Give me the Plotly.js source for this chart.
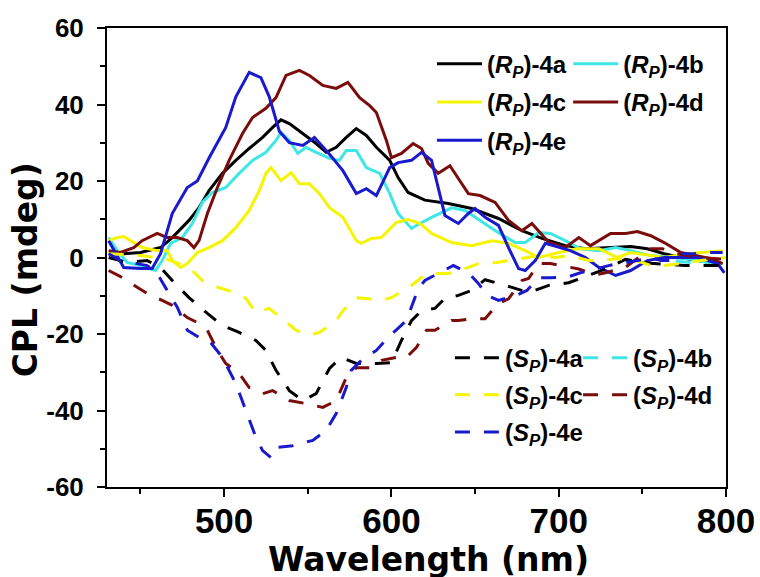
<!DOCTYPE html>
<html>
<head>
<meta charset="utf-8">
<script src="https://cdn.plot.ly/plotly-3.0.1.min.js"></script>
<style>html,body{margin:0;padding:0;background:#fff;}#chart{width:760px;height:577px;}</style>
</head>
<body>
<div id="chart"></div>
<script>
// ---- Data (wavelength nm, CPL mdeg) ----
var rp4a_x = [431,440,450,462,469,479,485,491,499,507,515,523,529,534,539,547,555,561,567,573,579,585,591,599,604,610,620,634,648,664,678,690,704,716,731,743,753,763,773,783,797];
var rp4a_y = [1,1,1.3,2.6,5.2,9.7,13,17.5,22,25.4,28.5,31.4,34,36,35,32.4,29.8,27.5,28.8,31.4,33.7,31.9,28.8,25.4,20.9,17,15,14.1,12.8,10.2,7,5,3.1,2.3,2.6,2.9,2.3,1,0,-0.8,-1.6];

var rp4b_x = [431,436,442,450,459,463,468,475,481,487,493,501,509,517,525,531,534,539,544,549,555,563,569,573,579,585,593,599,604,612,617,624,636,644,653,664,674,680,688,695,704,713,724,734,743,755,767,777,789,798];
var rp4b_y = [5.2,1.8,-1.3,-2.1,-3.4,-0.8,3.7,5.2,8.9,14.4,17,18.3,22,25.4,27.5,30.6,32.7,30.6,27.2,28.8,27.5,25.9,25.4,28,28,23.5,22,16.7,11.5,7.6,8.9,10.5,13,12.3,9.7,6.5,3.9,3.9,6.5,6.3,4.4,2.3,1.8,2.6,1.8,0.5,0,-0.3,-1.3,-1.6];

var rp4c_x = [431,436,440,446,451,460,466,469,474,478,484,491,499,507,515,521,525,528,534,540,545,551,557,563,571,579,582,588,594,603,610,617,624,636,648,660,670,680,688,700,711,724,735,743,763,777,798];
var rp4c_y = [4.4,5.2,5.5,3.9,2.6,1.8,1.8,-0.8,-2.6,-1.6,1.3,2.6,4.4,7.8,12.3,17.5,22,23.5,20.1,22.2,19.3,19.3,16.7,13,10.5,4.4,3.7,5,5.2,9.2,9.9,8.9,6.3,3.9,3.1,4.4,3.7,1.8,0,1.3,2.3,2.3,0,1.3,0,1,1.8];

var rp4d_x = [431,438,446,451,460,466,472,478,482,485,490,496,503,511,517,525,531,537,545,551,559,567,574,581,587,591,597,600,606,613,618,622,628,635,641,646,653,662,670,678,684,689,694,704,712,719,731,740,747,755,763,773,781,791,798];
var rp4d_y = [1.8,1.3,2.6,4.4,6.3,5.2,5.2,4.4,2.6,4.4,11.5,18.3,25.4,32.4,36.6,39,41.8,47.6,48.9,47.6,45,44.2,45.8,41.8,39.7,37.9,30.6,26.1,27.2,29.8,28.5,24.6,22,24,20,16.7,16.2,14.4,9.7,7,8.9,6.5,4,2.6,5.2,3.1,6.3,6.3,6.8,5.7,3.9,1.3,0.5,-0.3,-1.6];

var rp4e_x = [431,440,450,457,462,469,478,484,491,501,507,515,522,527,533,539,547,554,563,571,579,585,591,599,604,612,618,624,632,640,646,650,656,664,670,676,680,686,692,700,707,716,724,734,743,753,763,773,783,795,799];
var rp4e_y = [4.4,-2.6,-2.9,-2.9,1,11.5,18.3,20,26,34,42,48.4,47,42,33,30,29.3,31.4,27,22.7,16.7,18,16.2,23.5,24.8,25.4,27.5,25.4,11,8.9,11.5,12.8,10.5,8.4,2.6,-2.9,-3.4,-0.8,3.7,2.6,1.8,0,-2.6,-4.7,-3.4,-0.8,0,0,0,-1.6,-4];

var sp4a_x = [431,442,454,462,469,479,490,499,509,519,525,531,539,547,555,563,570,579,591,600,606,612,618,626,632,640,648,656,672,682,694,706,725,740,755,775,795,800];
var sp4a_y = [0,-1.3,-0.8,-2.6,-6,-10.5,-14.6,-17.8,-19.6,-21.7,-24.3,-29.5,-34.8,-37.4,-35.6,-29,-26.1,-27.7,-27.7,-27.5,-21.7,-16.5,-13.9,-13.3,-10.7,-9.9,-8.6,-5.8,-7.8,-9.2,-7.3,-6.6,-3.5,-0.5,-1.5,-2.1,-2.1,-2];

var sp4b_x = [770,785,800];
var sp4b_y = [-1,-1.5,-1.8];

var sp4c_x = [431,450,466,473,481,487,493,505,513,519,527,537,543,550,557,567,571,579,585,594,600,612,618,626,634,646,652,663,670,680,688,698,706,718,725,735,743,755,763,773,785,800];
var sp4c_y = [1,0.5,-0.5,-1.6,-3.4,-6,-7.3,-9,-10.7,-14.4,-13.3,-17,-19,-20.4,-19.6,-16.5,-13.9,-10.5,-10.7,-11.2,-10.5,-7.3,-5.2,-4.2,-4.2,-2.6,-1.6,-1.3,-0.8,0,0.5,0,0.5,-0.8,-0.8,-0.3,-0.3,-2.1,-2.1,-1.6,-0.8,0];

var sp4d_x = [431,439,448,456,463,469,478,484,490,496,501,509,515,523,529,539,549,559,567,573,579,587,594,603,609,615,621,626,636,640,649,656,664,670,678,682,688,695,706,712,722,728,740,747,755,762,770,785,800];
var sp4d_y = [-3.4,-5.2,-7.8,-9.9,-11.2,-12.5,-15.7,-17,-19,-24.3,-27.7,-30.3,-34,-35.6,-34.8,-37.4,-38.2,-39.2,-37.4,-31.4,-28.8,-28.8,-26.9,-26.1,-26.1,-23.5,-19,-19,-16.5,-16.5,-16,-16,-12,-10.8,-6,-5.5,-1.6,-1.6,-2.5,-3,-4.5,-4,-2.5,-0.3,2.3,2.3,1,0,-0.5];

var sp4e_x = [431,438,448,454,460,466,472,478,485,491,499,507,513,519,523,528,531,541,553,561,567,573,576,582,591,598,609,612,616,620,632,637,646,652,657,664,674,681,688,695,706,713,722,731,747,755,761,767,773,781,791,798];
var sp4e_y = [1,-0.8,-1.6,-2.1,-4.2,-8.6,-13,-19,-20.9,-21.7,-26.1,-33,-40,-47,-50.5,-52.3,-49.7,-49.2,-47.8,-45.2,-40.8,-34,-29.5,-26.9,-24.3,-20.9,-16.5,-13,-8.2,-6,-3.4,-2.1,-4,-6.8,-9.9,-11.2,-10,-8.6,-5.3,-5.3,-5,-4,-3,-2,-0.8,0,-0.8,-0.8,1,1,1.3,1.3];

var xTickVals = [500,600,700,800];
var yTickVals = [-60,-40,-20,0,20,40,60];
var xTitle = 'Wavelength (nm)';
var yTitle = 'CPL (mdeg)';

// ---- Styles ----
var C = {black:'#000000', cyan:'#3ee6e6', yellow:'#f5f500', brown:'#7b0c0c', blue:'#1a1acd'};
var LW = 3;
var DASH = '15px,14px';
function rName(s){ return '(<i>R</i><sub><i>P</i></sub>)-4' + s; }
function sName(s){ return '(<i>S</i><sub><i>P</i></sub>)-4' + s; }
function tr(x, y, name, color, dash, legend, grp){
  return {x:x, y:y, name:name, type:'scatter', mode:'lines',
    line:{color:color, width:LW, dash:dash, shape:'linear'},
    legend:legend, legendgroup:grp, hoverinfo:'skip'};
}

var data = [
  tr(sp4b_x, sp4b_y, sName('b'), C.cyan, DASH, 'legend4', 's4b'),
  tr(rp4a_x, rp4a_y, rName('a'), C.black, 'solid', 'legend', 'r4a'),
  tr(rp4b_x, rp4b_y, rName('b'), C.cyan, 'solid', 'legend2', 'r4b'),
  tr(rp4c_x, rp4c_y, rName('c'), C.yellow, 'solid', 'legend', 'r4c'),
  tr(rp4d_x, rp4d_y, rName('d'), C.brown, 'solid', 'legend2', 'r4d'),
  tr(rp4e_x, rp4e_y, rName('e'), C.blue, 'solid', 'legend', 'r4e'),
  tr(sp4a_x, sp4a_y, sName('a'), C.black, DASH, 'legend3', 's4a'),
  tr(sp4c_x, sp4c_y, sName('c'), C.yellow, DASH, 'legend3', 's4c'),
  tr(sp4d_x, sp4d_y, sName('d'), C.brown, DASH, 'legend4', 's4d'),
  tr(sp4e_x, sp4e_y, sName('e'), C.blue, DASH, 'legend3', 's4e')
];

var legFont = {family:'Liberation Sans, Arial, sans-serif', size:24, color:'#000', weight:'bold'};
function leg(x, y, gap){
  return {x:x, y:y, xanchor:'left', yanchor:'top', bgcolor:'rgba(0,0,0,0)', borderwidth:0,
    font:legFont, itemwidth:45, tracegroupgap:gap, orientation:'v', traceorder:'grouped', itemclick:false, itemdoubleclick:false};
}
var titleFont = {family:'DejaVu Sans, sans-serif', size:33, color:'#000', weight:'bold'};

var layout = {
  width:760, height:577,
  margin:{l:107, r:34, t:28, b:90, pad:0},
  paper_bgcolor:'#fff', plot_bgcolor:'#fff',
  showlegend:true,
  xaxis:{
    range:[430,800], tickvals:xTickVals, ticktext:xTickVals.map(String),
    ticks:'outside', ticklen:8, tickwidth:2, tickcolor:'#000',
    minor:{tickvals:[450,550,650,750], ticks:'outside', ticklen:5, tickwidth:2, tickcolor:'#000'},
    showline:true, linecolor:'#000', linewidth:2, mirror:true, showgrid:false, zeroline:false,
    tickfont:{family:'Liberation Sans, Arial, sans-serif', size:35, color:'#000', weight:'bold'},
    ticklabelstandoff:-6
  },
  yaxis:{
    range:[-60,60], tickvals:yTickVals, ticktext:yTickVals.map(String),
    ticks:'outside', ticklen:8, tickwidth:2, tickcolor:'#000',
    minor:{tickvals:[-50,-30,-10,10,30,50], ticks:'outside', ticklen:5, tickwidth:2, tickcolor:'#000'},
    showline:true, linecolor:'#000', linewidth:2, mirror:true, showgrid:false, zeroline:false,
    tickfont:{family:'Liberation Sans, Arial, sans-serif', size:26, color:'#000', weight:'bold'},
    ticklabelstandoff:8
  },
  annotations:[
    {text:xTitle, xref:'paper', yref:'paper', x:0.5186, y:-0.158, xanchor:'center', yanchor:'middle', showarrow:false, font:titleFont},
    {text:yTitle, xref:'paper', yref:'paper', x:-0.131, y:0.474, xanchor:'center', yanchor:'middle', textangle:-90, showarrow:false, font:titleFont}
  ],
  legend: leg(0.525, 0.97, 4),
  legend2: leg(0.745, 0.97, 4),
  legend3: leg(0.554, 0.33, 3),
  legend4: leg(0.761, 0.33, 3)
};

Plotly.newPlot('chart', data, layout, {staticPlot:true, displayModeBar:false});
</script>
</body>
</html>
